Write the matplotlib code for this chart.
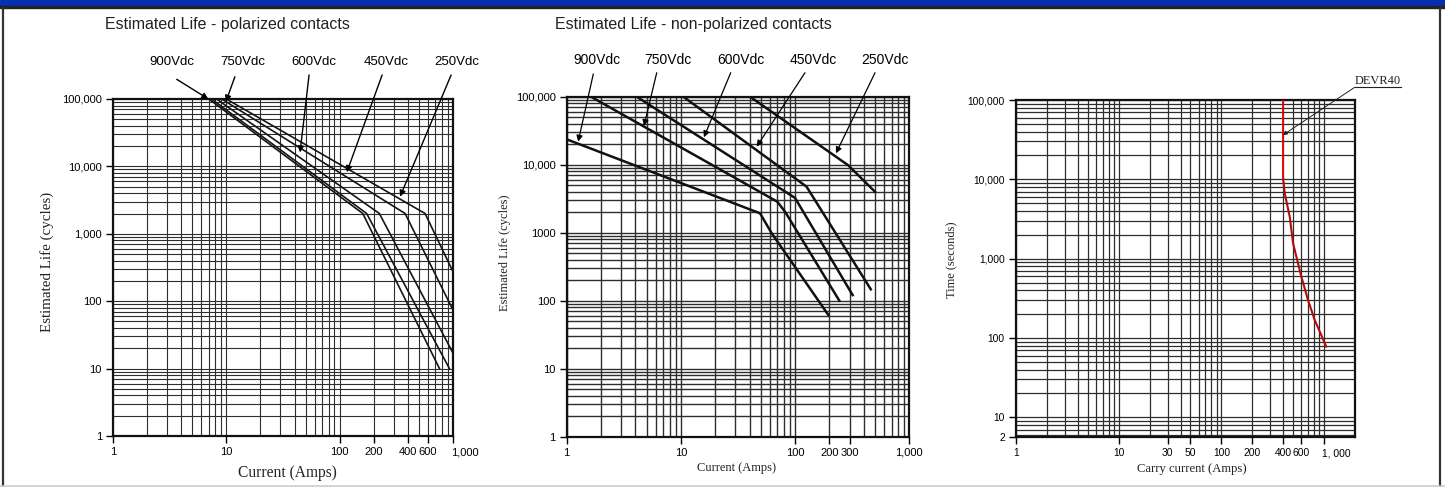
import matplotlib
matplotlib.use('Agg')
import matplotlib.pyplot as plt
from matplotlib.ticker import LogLocator, NullFormatter
from matplotlib.patches import Rectangle
from matplotlib.lines import Line2D
from matplotlib.transforms import ScaledTranslation

plt.rcParams['font.family'] = ['Liberation Sans', 'DejaVu Sans']

# ---- data ----
volts = ['900Vdc', '750Vdc', '600Vdc', '450Vdc', '250Vdc']

# polarized contacts: current (A) vs life (cycles)
pol_x = [[7.0, 160, 760], [7.4, 173, 930], [8.2, 224, 1000], [9.1, 378, 1000], [10.0, 567, 1000]]
pol_y = [[1e5, 2000, 10], [1e5, 2000, 10], [1e5, 2000, 17], [1e5, 2000, 74], [1e5, 2000, 274]]

# non-polarized contacts
npol_x = [[1.0, 49.3, 62.4, 195], [1.63, 69.8, 81.6, 244], [4.1, 99.8, 319], [10.5, 126, 460], [40.3, 292, 500]]
npol_y = [[23600, 1930, 980, 62], [1e5, 2860, 2040, 100], [1e5, 3250, 121], [1e5, 4750, 147], [1e5, 9800, 4010]]

# DEVR40 carry current vs time
devr_x = [400, 400, 414, 463, 499, 601, 698, 811, 1050]
devr_y = [1e5, 1e4, 6650, 3375, 1560, 591, 300, 168, 78]

pol_xticks = [1, 10, 100, 200, 400, 600, 1000]
pol_xlabels = ['1', '10', '100', '200', '400', '600', '1,000']
pol_yticks = [1, 10, 100, 1000, 1e4, 1e5]
pol_ylabels = ['1', '10', '100', '1,000', '10,000', '100,000']

npol_xticks = [1, 10, 100, 200, 300, 1000]
npol_xlabels = ['1', '10', '100', '200', '300', '1,000']
npol_ylabels = ['1', '10', '100', '1000', '10,000', '100,000']

carry_xticks = [1, 10, 30, 50, 100, 200, 400, 600, 1000]
carry_xlabels = ['1', '10', '30', '50', '100', '200', '400', '600', '1, 000']
carry_ymin = 5.6
carry_yticks = [carry_ymin, 10, 100, 1000, 1e4, 1e5]
carry_ylabels = ['2', '10', '100', '1,000', '10,000', '100,000']

W, H = 1445, 487
fig = plt.figure(figsize=(W / 100, H / 100), dpi=100)
fig.patch.set_facecolor('white')


def rect(x0, y0, x1, y1):
    return [x0 / W, 1 - y1 / H, (x1 - x0) / W, (y1 - y0) / H]


def fxy(x, y):
    return x / W, 1 - y / H


# page frame
fig.patches.append(Rectangle((0, 1 - 6 / H), 1, 6 / H, transform=fig.transFigure, color='#0530b0', zorder=0))
fig.patches.append(Rectangle((0, 1 - 8 / H), 1, 2 / H, transform=fig.transFigure, color='#222222', zorder=0))
fig.lines.append(Line2D([3.5 / W, 3.5 / W], [0, 1 - 8 / H], transform=fig.transFigure, color='#333333', lw=1.6))
fig.lines.append(Line2D([1439.5 / W, 1439.5 / W], [0, 1 - 8 / H], transform=fig.transFigure, color='#333333', lw=1.6))
fig.lines.append(Line2D([0, 1], [1.5 / H, 1.5 / H], transform=fig.transFigure, color='#cccccc', lw=1.2))


def setup(ax, xlim, ylim, xt, xtl, yt, ytl, glw, fs):
    ax.set_xscale('log')
    ax.set_yscale('log')
    ax.set_xlim(*xlim)
    ax.set_ylim(*ylim)
    ax.set_xticks(xt, xtl)
    ax.set_yticks(yt, ytl)
    for a in (ax.xaxis, ax.yaxis):
        a.set_minor_locator(LogLocator(base=10, subs=range(2, 10), numticks=20))
        a.set_minor_formatter(NullFormatter())
    ax.grid(True, which='both', color='#2e2e2e', lw=glw)
    ax.tick_params(which='minor', length=0)
    ax.tick_params(which='major', length=5, width=1, labelsize=fs, direction='out', pad=3)
    for s in ax.spines.values():
        s.set_linewidth(1.6)
        s.set_color('#111111')
    ax.set_axisbelow(True)


def nudge_last_xlabel(ax, dx_px):
    lab = ax.get_xticklabels()[-1]
    lab.set_transform(lab.get_transform() + ScaledTranslation(dx_px / 100, 0, fig.dpi_scale_trans))


# ---- chart 1: polarized ----
ax1 = fig.add_axes(rect(113, 99, 453, 436))
setup(ax1, (1, 1000), (1, 1e5), pol_xticks, pol_xlabels, pol_yticks, pol_ylabels, 0.8, 8)
nudge_last_xlabel(ax1, 12)
for xs, ys in zip(pol_x, pol_y):
    ax1.plot(xs, ys, color='#151515', lw=1.2, zorder=3)

pol_head = [(6.94, 1e5), (9.9, 9.1e4), (44.7, 1.61e4), (115.6, 8.2e3), (341, 3.55e3)]
pol_tail = [(3.65, 1.96e5), (11.9, 2.14e5), (53.7, 2.27e5), (237, 2.27e5), (962, 2.27e5)]
pol_lab_x = [3.3, 14, 59.4, 257, 1087]
for lab, h, t, lx in zip(volts, pol_head, pol_tail, pol_lab_x):
    ax1.annotate('', xy=h, xytext=t, annotation_clip=False,
                 arrowprops=dict(arrowstyle='-|>', color='k', lw=1.0, mutation_scale=9,
                                 shrinkA=0, shrinkB=0))
    ax1.text(lx, 3.54e5, lab, ha='center', va='center', fontsize=9.5, clip_on=False)

fig.text(*fxy(105, 25), 'Estimated Life - polarized contacts', ha='left', va='center', fontsize=11.5, color='#222222')
fig.text(*fxy(47, 262), 'Estimated Life (cycles)', rotation=90, ha='center', va='center',
         fontsize=10.8, family='Liberation Serif', color='#222222')
fig.text(*fxy(287, 473), 'Current (Amps)', ha='center', va='center',
         fontsize=11.2, family='Liberation Serif', color='#222222')

# ---- chart 2: non-polarized ----
ax2 = fig.add_axes(rect(566.7, 96.7, 909.3, 436.7))
setup(ax2, (1, 1000), (1, 1e5), npol_xticks, npol_xlabels, pol_yticks, npol_ylabels, 1.0, 8)
for xs, ys in zip(npol_x, npol_y):
    ax2.plot(xs, ys, color='#111111', lw=1.8, zorder=3)

npol_head = [(1.26, 21800), (4.75, 37100), (15.9, 25300), (46.1, 18400), (228, 14700)]
npol_tail = [(1.71, 2.16e5), (6.14, 2.25e5), (27.3, 2.25e5), (122, 2.25e5), (501, 2.25e5)]
npol_lab_x = [1.83, 7.76, 33.6, 144, 612]
for lab, h, t, lx in zip(volts, npol_head, npol_tail, npol_lab_x):
    ax2.annotate('', xy=h, xytext=t, annotation_clip=False,
                 arrowprops=dict(arrowstyle='-|>', color='k', lw=0.9, mutation_scale=9,
                                 shrinkA=0, shrinkB=0))
    ax2.text(lx, 3.47e5, lab, ha='center', va='center', fontsize=10, clip_on=False)

fig.text(*fxy(555, 25), 'Estimated Life - non-polarized contacts', ha='left', va='center', fontsize=11.5, color='#222222')
fig.text(*fxy(505, 253), 'Estimated Life (cycles)', rotation=90, ha='center', va='center',
         fontsize=9, family='Liberation Serif', color='#222222')
fig.text(*fxy(736.7, 468), 'Current (Amps)', ha='center', va='center',
         fontsize=9, family='Liberation Serif', color='#222222')

# ---- chart 3: carry current ----
ax3 = fig.add_axes(rect(1016, 100, 1355, 437.3))
setup(ax3, (1, 2000), (carry_ymin, 1e5), carry_xticks, carry_xlabels, carry_yticks, carry_ylabels, 0.9, 7.4)
nudge_last_xlabel(ax3, 12)
ax3.plot(devr_x[:2], devr_y[:2], color='#ee0000', lw=1.3, zorder=3)
ax3.plot(devr_x[1:], devr_y[1:], color='#b00c0c', lw=1.5, zorder=3)

ax3.annotate('', xy=(398, 36200), xytext=(1986, 1.445e5), annotation_clip=False,
             arrowprops=dict(arrowstyle='-|>', color='#222222', lw=0.7, mutation_scale=6,
                             shrinkA=0, shrinkB=0))
ax3.plot([1986, 5650], [1.445e5, 1.445e5], color='#222222', lw=0.8, clip_on=False)
ax3.text(3343, 1.737e5, 'DEVR40', ha='center', va='center', fontsize=8.9,
         family='Liberation Serif', clip_on=False, color='#222222')

fig.text(*fxy(951.7, 260), 'Time (seconds)', rotation=90, ha='center', va='center',
         fontsize=9, family='Liberation Serif', color='#222222')
fig.text(*fxy(1191.7, 469.3), 'Carry current (Amps)', ha='center', va='center',
         fontsize=9.1, family='Liberation Serif', color='#222222')

fig.savefig('out.png', dpi=100)
